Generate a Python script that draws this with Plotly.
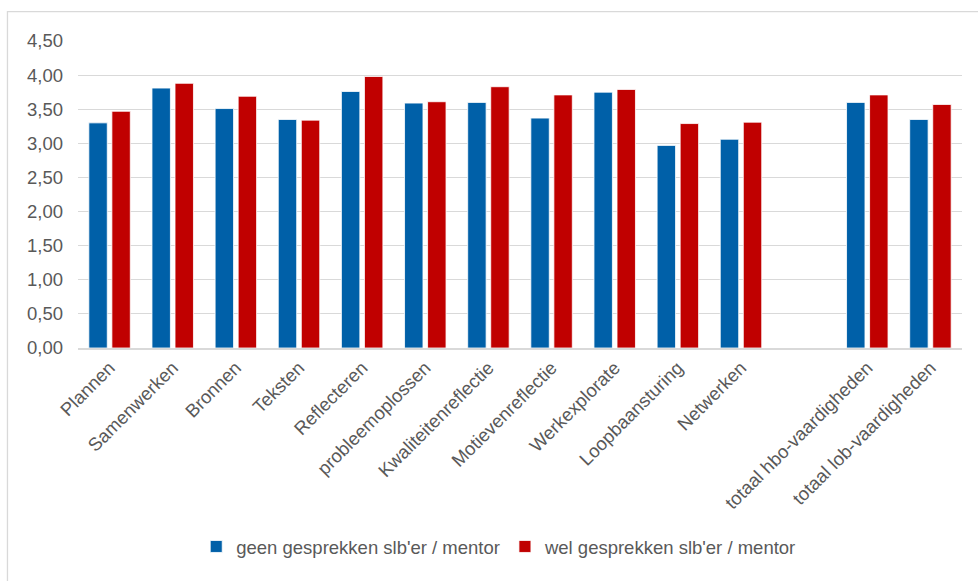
import plotly.graph_objects as go

# Skill categories (an empty slot separates the individual skills from the totals)
categories = [
    "Plannen", "Samenwerken", "Bronnen", "Teksten", "Reflecteren",
    "probleemoplossen", "Kwaliteitenreflectie", "Motievenreflectie",
    "Werkexplorate", "Loopbaansturing", "Netwerken", " ",
    "totaal hbo-vaardigheden", "totaal lob-vaardigheden",
]

# Mean scores per group
geen_gesprekken = [3.30, 3.81, 3.51, 3.35, 3.76, 3.59, 3.60, 3.37, 3.75, 2.97, 3.06, None, 3.60, 3.35]
wel_gesprekken = [3.47, 3.88, 3.69, 3.34, 3.98, 3.61, 3.83, 3.71, 3.79, 3.29, 3.31, None, 3.71, 3.57]

series_names = ["geen gesprekken slb'er / mentor", "wel gesprekken slb'er / mentor"]

y_ticks = [0, 0.5, 1.0, 1.5, 2.0, 2.5, 3.0, 3.5, 4.0, 4.5]
y_tick_labels = [f"{v:.2f}".replace(".", ",") for v in y_ticks]

BLUE = "#0060A8"
RED = "#C00000"
GRID = "#D9D9D9"
TEXT = "#595959"
FONT = "Liberation Sans, Arial, sans-serif"
FS = 18.5

fig = go.Figure()
fig.add_trace(go.Bar(
    x=categories, y=geen_gesprekken, name=series_names[0],
    marker=dict(color=BLUE, line=dict(color="white", width=0.8)),
))
fig.add_trace(go.Bar(
    x=categories, y=wel_gesprekken, name=series_names[1],
    marker=dict(color=RED, line=dict(color="white", width=0.8)),
))

fig.update_layout(
    width=978, height=581,
    margin=dict(l=78, r=16, t=41, b=233),
    paper_bgcolor="white", plot_bgcolor="white",
    barmode="group", bargap=0.27, bargroupgap=0.2,
    font=dict(family=FONT, size=FS, color=TEXT),
    showlegend=True,
    legend=dict(
        orientation="h", x=0.4765, xanchor="center", y=-0.648, yanchor="middle",
        font=dict(size=FS, color=TEXT), itemwidth=30, traceorder="normal",
        bgcolor="rgba(0,0,0,0)",
    ),
    xaxis=dict(
        type="category", categoryorder="array", categoryarray=categories,
        tickangle=-45, showgrid=False, ticks="",
        showline=True, linecolor=GRID, linewidth=1.5,
        tickfont=dict(size=FS, color=TEXT),
    ),
    yaxis=dict(
        range=[0, 4.5], tickvals=y_ticks, ticktext=y_tick_labels,
        showgrid=True, gridcolor=GRID, gridwidth=1.3,
        zeroline=False, showline=False, ticks="",
        ticklabelstandoff=14,
        tickfont=dict(size=FS, color=TEXT),
    ),
)

# Light frame around the chart area
fig.add_shape(
    type="rect", xref="paper", yref="paper",
    x0=-0.0798, x1=1.04, y0=-0.82, y1=1.096,
    line=dict(color=GRID, width=1.3), fillcolor="rgba(0,0,0,0)", layer="below",
)

fig.write_html("out.html")
